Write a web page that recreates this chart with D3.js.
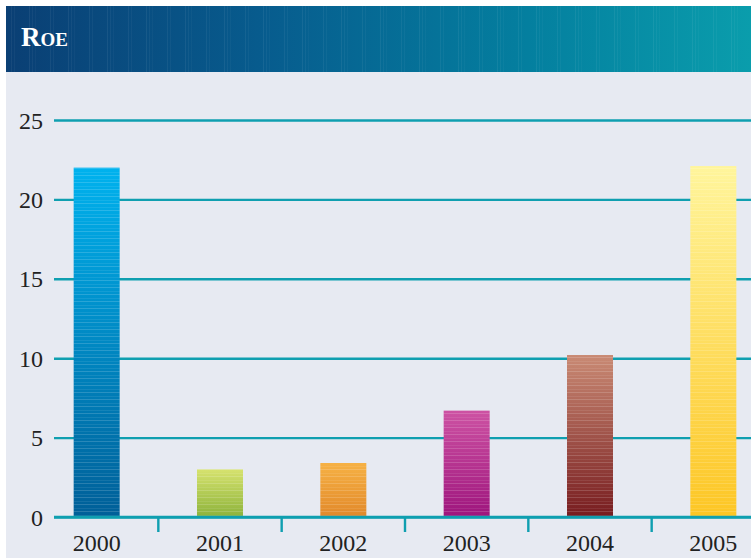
<!DOCTYPE html>
<html>
<head>
<meta charset="utf-8">
<script src="https://cdn.jsdelivr.net/npm/d3@7"></script>
<style>
  html, body { margin: 0; padding: 0; background: #ffffff; }
  svg { display: block; }
</style>
</head>
<body>
<svg id="chart" width="751" height="560"></svg>
<script>
// Return on equity by year
const years = ["2000", "2001", "2002", "2003", "2004", "2005"];
const roe = [22, 3, 3.4, 6.7, 10.2, 22.1];
const yTicks = [0, 5, 10, 15, 20, 25];
const title = "Roe";

// Bar colours, top and bottom of each vertical gradient
const barTop = ["#00b2ee", "#d6e26e", "#f6b144", "#cd52a3", "#c98a74", "#fff59c"];
const barBottom = ["#005f98", "#8db33b", "#e2892a", "#9e157d", "#771c1f", "#fdc624"];

const W = 751, H = 560;
const svg = d3.select("#chart");
const defs = svg.append("defs");

// Panel background
svg.append("rect")
  .attr("x", 6).attr("y", 6).attr("width", W - 6).attr("height", 552)
  .attr("fill", "#e7eaf2");

// Header band
const hg = defs.append("linearGradient").attr("id", "hdr")
  .attr("x1", "0").attr("x2", "1").attr("y1", "0").attr("y2", "0");
[["0", "#0a3f74"], ["0.35", "#075c8e"], ["0.7", "#047f9f"], ["1", "#0a9dac"]]
  .forEach(([o, c]) => hg.append("stop").attr("offset", o).attr("stop-color", c));
svg.append("rect")
  .attr("x", 6).attr("y", 6).attr("width", W - 6).attr("height", 66)
  .attr("fill", "url(#hdr)");
// fine vertical sheen lines across the header
const hdrLines = svg.append("g");
d3.range(8, W, 3).forEach((x, i) => {
  const a = ((i * 37) % 13) / 13;
  if (a > 0.55) {
    hdrLines.append("rect")
      .attr("x", x).attr("y", 6).attr("width", 1).attr("height", 66)
      .attr("fill", "#ffffff").attr("opacity", 0.025 + (a - 0.55) * 0.1);
  }
});
svg.append("text")
  .attr("x", 21).attr("y", 46)
  .attr("fill", "#ffffff")
  .attr("font-family", "'Liberation Serif', serif")
  .attr("font-size", 27)
  .attr("font-weight", "bold")
  .style("font-variant", "small-caps")
  .text(title);

// Scales
const y = d3.scaleLinear().domain([0, 25]).range([517, 120]);
const x = d3.scaleBand().domain(years).range([35, 775]).paddingInner(0.627).paddingOuter(0.3135);

const teal = "#0f9fb0";
const numFont = "'Liberation Serif', serif";

// Horizontal gridlines and y labels
const yAxis = d3.axisLeft(y).tickValues(yTicks).tickSize(0).tickPadding(11);
const gy = svg.append("g").attr("transform", "translate(54,0)").call(yAxis);
gy.select(".domain").remove();
gy.selectAll(".tick text")
  .attr("font-family", numFont)
  .attr("font-size", 24)
  .attr("fill", "#222222")
  .attr("dy", "0.34em");
gy.selectAll(".tick").append("line")
  .attr("x1", 0).attr("x2", W - 54)
  .attr("stroke", teal).attr("stroke-width", 2.4);

// Bars with gradient fill and fine horizontal streaks
years.forEach((yr, i) => {
  const g = defs.append("linearGradient").attr("id", "bar" + i)
    .attr("x1", "0").attr("x2", "0").attr("y1", "0").attr("y2", "1");
  g.append("stop").attr("offset", "0").attr("stop-color", barTop[i]);
  g.append("stop").attr("offset", "1").attr("stop-color", barBottom[i]);
});
const streak = defs.append("pattern").attr("id", "streak")
  .attr("patternUnits", "userSpaceOnUse").attr("width", 10).attr("height", 7);
streak.append("rect").attr("x", 0).attr("y", 0).attr("width", 10).attr("height", 1)
  .attr("fill", "#ffffff").attr("opacity", 0.16);
streak.append("rect").attr("x", 0).attr("y", 4).attr("width", 10).attr("height", 1)
  .attr("fill", "#ffffff").attr("opacity", 0.08);

const bars = svg.append("g");
bars.selectAll("rect.bar").data(roe).join("rect")
  .attr("class", "bar")
  .attr("x", (d, i) => x(years[i]))
  .attr("y", d => y(d))
  .attr("width", x.bandwidth())
  .attr("height", d => y(0) - y(d))
  .attr("fill", (d, i) => `url(#bar${i})`);
bars.selectAll("rect.sheen").data(roe).join("rect")
  .attr("class", "sheen")
  .attr("x", (d, i) => x(years[i]))
  .attr("y", d => y(d))
  .attr("width", x.bandwidth())
  .attr("height", d => y(0) - y(d))
  .attr("fill", "url(#streak)");

// X axis baseline, separators between years, year labels
const step = x.step();
const xAxis = d3.axisBottom(x).tickSize(0).tickPadding(17);
const gx = svg.append("g").attr("transform", `translate(0,${y(0)})`).call(xAxis);
gx.select(".domain").remove();
gx.selectAll(".tick text")
  .attr("font-family", numFont)
  .attr("font-size", 24)
  .attr("fill", "#222222")
  .attr("dy", "0.71em");
gx.append("line")
  .attr("x1", 54).attr("x2", W)
  .attr("stroke", teal).attr("stroke-width", 2.6);
gx.selectAll("line.sep").data(years.slice(1)).join("line")
  .attr("class", "sep")
  .attr("x1", d => x(d) + x.bandwidth() / 2 - step / 2)
  .attr("x2", d => x(d) + x.bandwidth() / 2 - step / 2)
  .attr("y1", 0).attr("y2", 15)
  .attr("stroke", teal).attr("stroke-width", 2.4);
</script>
</body>
</html>
